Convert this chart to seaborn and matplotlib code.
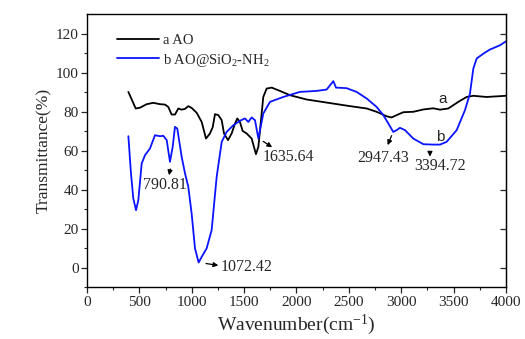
import numpy as np
import pandas as pd
import matplotlib
matplotlib.use("Agg")
import matplotlib.pyplot as plt
import seaborn as sns

# ---- data ----
ao_x = [395, 465, 506, 570, 633, 697, 745, 776, 808, 840, 872, 904, 936, 967, 999,
        1047, 1095, 1136, 1174, 1200, 1222, 1254, 1286, 1308, 1346, 1381, 1413, 1435,
        1460, 1486, 1524, 1572, 1613, 1636, 1683, 1715, 1763, 1842, 1938, 2097, 2352,
        2511, 2670, 2765, 2861, 2908, 2956, 3020, 3115, 3211, 3306, 3370, 3449, 3545,
        3624, 3688, 3815, 4000]
ao_y = [90.1, 81.6, 82.0, 83.8, 84.5, 83.8, 83.6, 82.4, 78.5, 78.5, 81.6, 81.0, 81.4,
        82.8, 81.9, 79.4, 74.7, 66.2, 68.8, 72.0, 78.7, 78.2, 75.6, 68.8, 65.4, 68.8,
        73.9, 76.5, 74.7, 70.1, 68.8, 66.2, 58.2, 62.0, 87.5, 91.8, 92.3, 90.6, 88.4,
        86.2, 84.1, 82.8, 81.6, 79.9, 77.6, 77.0, 78.2, 79.7, 79.9, 81.1, 81.7, 81.0,
        81.6, 85.0, 87.5, 88.1, 87.5, 88.1]

si_x = [395, 420, 442, 468, 490, 522, 554, 601, 649, 697, 729, 761, 792, 818, 840, 862,
        904, 936, 967, 999, 1031, 1066, 1095, 1142, 1190, 1238, 1286, 1333, 1397, 1460,
        1508, 1540, 1572, 1604, 1636, 1683, 1747, 1874, 2033, 2192, 2288, 2320, 2352,
        2377, 2479, 2574, 2670, 2765, 2829, 2877, 2924, 2956, 2988, 3036, 3115, 3211,
        3306, 3370, 3433, 3529, 3608, 3656, 3688, 3720, 3784, 3847, 3943, 4000]
si_y = [67.4, 48.3, 35.5, 29.5, 34.6, 53.4, 57.7, 61.1, 67.9, 67.4, 67.6, 65.4, 54.3,
        61.9, 72.2, 71.3, 56.8, 48.3, 41.5, 27.8, 9.9, 2.7, 5.6, 9.9, 19.3, 46.6, 64.5,
        69.6, 73.0, 75.3, 76.5, 74.7, 77.0, 75.6, 66.2, 79.0, 85.0, 87.5, 90.1, 90.6,
        91.3, 93.5, 95.6, 92.3, 92.0, 90.1, 86.7, 82.4, 78.2, 73.9, 69.6, 70.5, 71.7,
        70.5, 66.2, 63.3, 63.1, 63.1, 64.5, 70.5, 80.7, 89.2, 102.0, 107.2, 109.7,
        111.8, 114.0, 116.0]

series_labels = ["a AO", "b AO@SiO$_2$-NH$_2$"]
peak_labels = ["790.81", "1072.42", "1635.64", "2947.43", "3394.72"]
x_ticks = [0, 500, 1000, 1500, 2000, 2500, 3000, 3500, 4000]
y_ticks = [0, 20, 40, 60, 80, 100, 120]

df_a = pd.DataFrame({"x": ao_x, "y": ao_y})
df_b = pd.DataFrame({"x": si_x, "y": si_y})

sns.set_style("ticks")
plt.rcParams["font.family"] = ["Liberation Serif", "DejaVu Serif"]
plt.rcParams["mathtext.fontset"] = "custom"
plt.rcParams["mathtext.rm"] = "Liberation Serif"
plt.rcParams["mathtext.it"] = "Liberation Serif:italic"
plt.rcParams["mathtext.bf"] = "Liberation Serif:bold"

fig = plt.figure(figsize=(5.25, 3.39), dpi=100)
ax = fig.add_axes([0.1657, 0.1525, 0.7981, 0.8062])

sns.lineplot(data=df_a, x="x", y="y", ax=ax, color="black", lw=1.3,
             label=series_labels[0], estimator=None, sort=False)
sns.lineplot(data=df_b, x="x", y="y", ax=ax, color="#0a14ff", lw=1.3,
             label=series_labels[1], estimator=None, sort=False)

ax.set_xlim(0, 4000)
ax.set_ylim(-10, 130)
ax.set_xticks(x_ticks)
ax.set_yticks(y_ticks)
ax.set_xticks(np.arange(250, 4000, 500), minor=True)
ax.set_yticks(np.arange(-10, 130, 20), minor=True)
ax.tick_params(axis="both", which="major", direction="out", length=4, width=0.9,
               labelsize=11, pad=2)
ax.tick_params(axis="both", which="minor", direction="out", length=2.5, width=0.8)
for s in ax.spines.values():
    s.set_linewidth(1.0)
    s.set_color("black")
    s.set_visible(True)

sec = ax.secondary_yaxis("right")
sec.set_yticks(y_ticks)
sec.tick_params(direction="in", length=4, width=0.9, labelright=False)

ax.set_xlabel("Wavenumber(cm$^{-1}$)", fontsize=14, labelpad=3)
ax.set_ylabel("Transmittance(%)", fontsize=12.5, labelpad=3)

leg = ax.legend(loc="upper left", bbox_to_anchor=(0.04, 0.975), frameon=False,
                fontsize=10.5, handlelength=2.9, handletextpad=0.25, labelspacing=0.3)

ann_kw = dict(arrowstyle="-|>", color="black", lw=0.9, mutation_scale=7)
fs = 11.5
ax.annotate("", xy=(778, 46.0), xytext=(800, 52.0), arrowprops=ann_kw)
ax.text(748, 42.3, peak_labels[0], fontsize=fs, ha="center", va="center")
ax.annotate("", xy=(1280, 1.0), xytext=(1110, 2.4), arrowprops=ann_kw)
ax.text(1276, 0.5, peak_labels[1], fontsize=fs, ha="left", va="center")
ax.annotate("", xy=(1790, 61.0), xytext=(1660, 65.5), arrowprops=ann_kw)
ax.text(1680, 56.8, peak_labels[2], fontsize=fs, ha="left", va="center")
ax.annotate("", xy=(2860, 61.5), xytext=(2918, 69.0), arrowprops=ann_kw)
ax.text(2823, 56.0, peak_labels[3], fontsize=fs, ha="center", va="center")
ax.annotate("", xy=(3274, 55.5), xytext=(3274, 61.0), arrowprops=ann_kw)
ax.text(3373, 52.2, peak_labels[4], fontsize=fs, ha="center", va="center")

ax.text(3395, 86.7, "a", fontsize=11, ha="center", va="center", family="Liberation Sans")
ax.text(3370, 67.0, "b", fontsize=11, ha="center", va="center", family="Liberation Sans")

fig.savefig("out.png", dpi=100)
